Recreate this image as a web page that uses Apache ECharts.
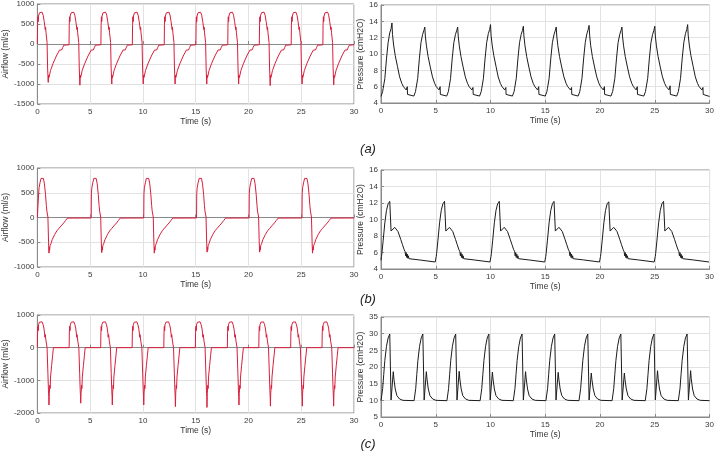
<!DOCTYPE html>
<html><head><meta charset="utf-8">
<script src="https://cdn.jsdelivr.net/npm/echarts@6/dist/echarts.min.js"></script>
<style>html,body{margin:0;padding:0;background:#fff}#c{width:717px;height:459px}</style>
</head><body><div id="c"></div>
<script>
// ---- tick labels ----
const timeTicks = [0,5,10,15,20,25,30];
const flowTicksA = [-1500,-1000,-500,0,500,1000];
const pressTicksA = [4,6,8,10,12,14,16];
const flowTicksB = [-1000,-500,0,500,1000];
const pressTicksB = [4,6,8,10,12,14,16];
const flowTicksC = [-2000,-1000,0,1000];
const pressTicksC = [5,10,15,20,25,30,35];
const panelLabels = ['(a)','(b)','(c)'];
const flowName = 'Airflow (ml/s)';
const pressName = 'Pressure (cmH2O)';
const timeName = 'Time (s)';

// ---- series values [time s, value] ----
const flowA = [
[0,0],[0.02,480],[0.05,680],[0.08,560],[0.11,700],[0.2,780],[0.32,800],[0.45,795],[0.55,720],[0.65,560],[0.75,360],[0.78,420],[0.82,280],[0.92,40],[0.97,-600],[1.03,-960],[1.06,-780],[1.1,-840],[1.25,-660],[1.5,-480],[1.8,-300],[2.1,-150],[2.25,-100],[2.3,-150],[2.4,-90],[2.5,-30],[2.6,-20],
[3,-20],[3.02,480],[3.05,680],[3.08,560],[3.11,700],[3.2,780],[3.32,800],[3.45,795],[3.55,720],[3.65,560],[3.75,360],[3.78,420],[3.82,280],[3.92,40],[3.97,-600],[4.03,-1030],[4.06,-780],[4.1,-840],[4.25,-660],[4.5,-480],[4.8,-300],[5.1,-150],[5.25,-100],[5.3,-150],[5.4,-90],[5.5,-30],[5.6,-20],
[6.02,-20],[6.04,480],[6.07,680],[6.1,560],[6.13,700],[6.22,780],[6.34,800],[6.47,795],[6.57,720],[6.67,560],[6.77,360],[6.8,420],[6.84,280],[6.94,40],[6.99,-600],[7.05,-1000],[7.08,-780],[7.12,-840],[7.27,-660],[7.52,-480],[7.82,-300],[8.12,-150],[8.27,-100],[8.32,-150],[8.42,-90],[8.52,-30],[8.62,-20],
[9,-20],[9.02,480],[9.05,680],[9.08,560],[9.11,700],[9.2,780],[9.32,800],[9.45,795],[9.55,720],[9.65,560],[9.75,360],[9.78,420],[9.82,280],[9.92,40],[9.97,-600],[10.03,-1000],[10.06,-780],[10.1,-840],[10.25,-660],[10.5,-480],[10.8,-300],[11.1,-150],[11.25,-100],[11.3,-150],[11.4,-90],[11.5,-30],[11.6,-20],
[12.02,-20],[12.04,480],[12.07,680],[12.1,560],[12.13,700],[12.22,780],[12.34,800],[12.47,795],[12.57,720],[12.67,560],[12.77,360],[12.8,420],[12.84,280],[12.94,40],[12.99,-600],[13.05,-1000],[13.08,-780],[13.12,-840],[13.27,-660],[13.52,-480],[13.82,-300],[14.12,-150],[14.27,-100],[14.32,-150],[14.42,-90],[14.52,-30],[14.62,-20],
[15.02,-20],[15.04,480],[15.07,680],[15.1,560],[15.13,700],[15.22,780],[15.34,800],[15.47,795],[15.57,720],[15.67,560],[15.77,360],[15.8,420],[15.84,280],[15.94,40],[15.99,-600],[16.05,-1000],[16.08,-780],[16.12,-840],[16.27,-660],[16.52,-480],[16.82,-300],[17.12,-150],[17.27,-100],[17.32,-150],[17.42,-90],[17.52,-30],[17.62,-20],
[18.04,-20],[18.06,480],[18.09,680],[18.12,560],[18.15,700],[18.24,780],[18.36,800],[18.49,795],[18.59,720],[18.69,560],[18.79,360],[18.82,420],[18.86,280],[18.96,40],[19.01,-600],[19.07,-1000],[19.1,-780],[19.14,-840],[19.29,-660],[19.54,-480],[19.84,-300],[20.14,-150],[20.29,-100],[20.34,-150],[20.44,-90],[20.54,-30],[20.64,-20],
[21.03,-20],[21.05,480],[21.08,680],[21.11,560],[21.14,700],[21.23,780],[21.35,800],[21.48,795],[21.58,720],[21.68,560],[21.78,360],[21.81,420],[21.85,280],[21.95,40],[22,-600],[22.06,-1040],[22.09,-780],[22.13,-840],[22.28,-660],[22.53,-480],[22.83,-300],[23.13,-150],[23.28,-100],[23.33,-150],[23.43,-90],[23.53,-30],[23.63,-20],
[24.05,-20],[24.07,480],[24.1,680],[24.13,560],[24.16,700],[24.25,780],[24.37,800],[24.5,795],[24.6,720],[24.7,560],[24.8,360],[24.83,420],[24.87,280],[24.97,40],[25.02,-600],[25.08,-1000],[25.11,-780],[25.15,-840],[25.3,-660],[25.55,-480],[25.85,-300],[26.15,-150],[26.3,-100],[26.35,-150],[26.45,-90],[26.55,-30],[26.65,-20],
[27.05,-20],[27.07,480],[27.1,680],[27.13,560],[27.16,700],[27.25,780],[27.37,800],[27.5,795],[27.6,720],[27.7,560],[27.8,360],[27.83,420],[27.87,280],[27.97,40],[28.02,-600],[28.08,-1020],[28.11,-780],[28.15,-840],[28.3,-660],[28.55,-480],[28.85,-300],[29.15,-150],[29.3,-100],[29.35,-150],[29.45,-90],[29.55,-30],[29.65,-20],[30,-20]
];

const pressA = [
[0,4.8],[0.1,5],[0.15,5.4],[0.2,5.8],[0.25,5.75],[0.35,7],[0.5,9.4],[0.65,11.4],[0.8,12.6],[0.92,13.1],[1,13.8],[1.05,12.4],[1.15,11.1],[1.3,9.8],[1.5,8.5],[1.7,7.2],[1.9,6.4],[2.05,6],[2.3,5.6],[2.36,5.55],[2.4,6],[2.42,5.05],[2.55,4.85],
[3,4.85],[3.1,4.9],[3.15,5.4],[3.2,5.8],[3.25,5.75],[3.35,7],[3.5,9.4],[3.65,11.4],[3.8,12.4],[3.92,12.9],[4,13.3],[4.05,12.2],[4.15,11],[4.3,9.7],[4.5,8.4],[4.7,7.2],[4.9,6.4],[5.05,6],[5.3,5.6],[5.36,5.55],[5.4,6],[5.42,5.05],[5.55,4.85],
[6,4.85],[6.1,4.9],[6.15,5.4],[6.2,5.8],[6.25,5.75],[6.35,7],[6.5,9.4],[6.65,11.4],[6.8,12.4],[6.92,12.9],[7,13.3],[7.05,12.2],[7.15,11],[7.3,9.7],[7.5,8.4],[7.7,7.2],[7.9,6.4],[8.05,6],[8.3,5.6],[8.36,5.55],[8.4,5.9],[8.42,5.05],[8.55,4.85],
[9,4.85],[9.1,4.9],[9.15,5.4],[9.2,5.8],[9.25,5.75],[9.35,7],[9.5,9.4],[9.65,11.4],[9.8,12.5],[9.92,13],[10,13.6],[10.05,12.3],[10.15,11.1],[10.3,9.8],[10.5,8.5],[10.7,7.2],[10.9,6.4],[11.05,6],[11.3,5.6],[11.36,5.55],[11.4,5.9],[11.42,5.05],[11.55,4.85],
[12,4.85],[12.1,4.9],[12.15,5.4],[12.2,5.8],[12.25,5.75],[12.35,7],[12.5,9.4],[12.65,11.4],[12.8,12.4],[12.92,12.9],[13,13.4],[13.05,12.2],[13.15,11],[13.3,9.7],[13.5,8.4],[13.7,7.2],[13.9,6.4],[14.05,6],[14.3,5.6],[14.36,5.55],[14.4,6],[14.42,5.05],[14.55,4.85],
[15,4.85],[15.1,4.9],[15.15,5.4],[15.2,5.8],[15.25,5.75],[15.35,7],[15.5,9.4],[15.65,11.4],[15.8,12.4],[15.92,12.9],[16,13.3],[16.05,12.2],[16.15,11],[16.3,9.7],[16.5,8.4],[16.7,7.2],[16.9,6.4],[17.05,6],[17.3,5.6],[17.36,5.55],[17.4,5.9],[17.42,5.05],[17.55,4.85],
[18,4.85],[18.1,4.9],[18.15,5.4],[18.2,5.8],[18.25,5.75],[18.35,7],[18.5,9.4],[18.65,11.4],[18.8,12.5],[18.92,13],[19,13.5],[19.05,12.3],[19.15,11],[19.3,9.7],[19.5,8.4],[19.7,7.2],[19.9,6.4],[20.05,6],[20.3,5.6],[20.36,5.55],[20.4,6],[20.42,5.05],[20.55,4.85],
[21,4.85],[21.1,4.9],[21.15,5.4],[21.2,5.8],[21.25,5.75],[21.35,7],[21.5,9.4],[21.65,11.4],[21.8,12.4],[21.92,12.9],[22,13.3],[22.05,12.2],[22.15,11],[22.3,9.7],[22.5,8.4],[22.7,7.2],[22.9,6.4],[23.05,6],[23.3,5.6],[23.36,5.55],[23.4,6],[23.42,5.05],[23.55,4.85],
[24,4.85],[24.1,4.9],[24.15,5.4],[24.2,5.8],[24.25,5.75],[24.35,7],[24.5,9.4],[24.65,11.4],[24.8,12.4],[24.92,12.9],[25,13.4],[25.05,12.2],[25.15,11],[25.3,9.7],[25.5,8.4],[25.7,7.2],[25.9,6.4],[26.05,6],[26.3,5.6],[26.36,5.55],[26.4,6.1],[26.42,5.05],[26.55,4.85],
[27,4.85],[27.1,4.9],[27.15,5.4],[27.2,5.8],[27.25,5.75],[27.35,7],[27.5,9.4],[27.65,11.4],[27.8,12.5],[27.92,13],[28,13.6],[28.05,12.3],[28.15,11.1],[28.3,9.8],[28.5,8.5],[28.7,7.2],[28.9,6.4],[29.05,6],[29.3,5.6],[29.36,5.55],[29.4,5.9],[29.42,5.05],[29.55,4.85],[30,4.8]
];

const flowB = [
[0,0],[0.1,-5],[0.12,480],[0.16,600],[0.2,560],[0.25,700],[0.35,790],[0.47,815],[0.57,790],[0.67,680],[0.77,470],[0.85,240],[0.9,130],[1,10],[1.06,-500],[1.1,-720],[1.13,-600],[1.16,-660],[1.2,-570],[1.25,-600],[1.3,-520],[1.4,-450],[1.5,-410],[1.65,-340],[1.85,-270],[2.05,-220],[2.25,-170],[2.4,-140],[2.5,-110],[2.6,-90],[2.68,-60],[2.75,-20],[2.85,-12],
[5.1,-10],[5.12,480],[5.16,600],[5.2,560],[5.25,700],[5.35,790],[5.47,815],[5.57,790],[5.67,680],[5.77,470],[5.85,240],[5.9,130],[6,10],[6.06,-500],[6.1,-710],[6.13,-600],[6.16,-660],[6.2,-570],[6.25,-600],[6.3,-520],[6.4,-450],[6.5,-410],[6.65,-340],[6.85,-270],[7.05,-220],[7.25,-170],[7.4,-140],[7.5,-110],[7.6,-90],[7.68,-60],[7.75,-20],[7.85,-12],
[10.08,-10],[10.1,480],[10.14,600],[10.18,560],[10.23,700],[10.33,790],[10.45,815],[10.55,790],[10.65,680],[10.75,470],[10.83,240],[10.88,130],[10.98,10],[11.04,-500],[11.08,-720],[11.11,-600],[11.14,-660],[11.18,-570],[11.23,-600],[11.28,-520],[11.38,-450],[11.48,-410],[11.63,-340],[11.83,-270],[12.03,-220],[12.23,-170],[12.38,-140],[12.48,-110],[12.58,-90],[12.66,-60],[12.73,-20],[12.83,-12],
[15.08,-10],[15.1,480],[15.14,600],[15.18,560],[15.23,700],[15.33,790],[15.45,815],[15.55,790],[15.65,680],[15.75,470],[15.83,240],[15.88,130],[15.98,10],[16.04,-500],[16.08,-700],[16.11,-600],[16.14,-660],[16.18,-570],[16.23,-600],[16.28,-520],[16.38,-450],[16.48,-410],[16.63,-340],[16.83,-270],[17.03,-220],[17.23,-170],[17.38,-140],[17.48,-110],[17.58,-90],[17.66,-60],[17.73,-20],[17.83,-12],
[20.06,-10],[20.08,480],[20.12,600],[20.16,560],[20.21,700],[20.31,790],[20.43,815],[20.53,790],[20.63,680],[20.73,470],[20.81,240],[20.86,130],[20.96,10],[21.02,-500],[21.06,-700],[21.09,-600],[21.12,-660],[21.16,-570],[21.21,-600],[21.26,-520],[21.36,-450],[21.46,-410],[21.61,-340],[21.81,-270],[22.01,-220],[22.21,-170],[22.36,-140],[22.46,-110],[22.56,-90],[22.64,-60],[22.71,-20],[22.81,-12],
[25.07,-10],[25.09,480],[25.13,600],[25.17,560],[25.22,700],[25.32,790],[25.44,815],[25.54,790],[25.64,680],[25.74,470],[25.82,240],[25.87,130],[25.97,10],[26.03,-500],[26.07,-720],[26.1,-600],[26.13,-660],[26.17,-570],[26.22,-600],[26.27,-520],[26.37,-450],[26.47,-410],[26.62,-340],[26.82,-270],[27.02,-220],[27.22,-170],[27.37,-140],[27.47,-110],[27.57,-90],[27.65,-60],[27.72,-20],[27.82,-12],[30,-10]
];

const pressB = [
[0,5.05],[0.04,5.5],[0.08,5.9],[0.2,7.5],[0.35,9.6],[0.5,11.1],[0.65,11.9],[0.8,12.2],[0.88,12.35],[0.92,8.6],[0.97,8.5],[1.02,8.8],[1.25,9.05],[1.4,8.9],[1.55,8.55],[1.8,7.6],[1.95,7],[2.1,6.4],[2.2,6.1],[2.25,5.6],[2.3,6],[2.35,5.4],[2.4,5.8],[2.45,5.3],[2.5,5.6],[2.55,5.25],[2.6,5.4],[2.65,5.3],[3.5,5.1],[4.95,4.85],
[5,4.85],[5.04,5.5],[5.08,5.9],[5.2,7.5],[5.35,9.6],[5.5,11.1],[5.65,11.9],[5.8,12.2],[5.88,12.35],[5.92,8.6],[5.97,8.5],[6.02,8.8],[6.25,9.05],[6.4,8.9],[6.55,8.55],[6.8,7.6],[6.95,7],[7.1,6.4],[7.2,6.1],[7.25,5.6],[7.3,6],[7.35,5.4],[7.4,5.8],[7.45,5.3],[7.5,5.6],[7.55,5.25],[7.6,5.4],[7.65,5.3],[8.5,5.1],[9.95,4.85],
[10,4.85],[10.04,5.5],[10.08,5.9],[10.2,7.5],[10.35,9.6],[10.5,11.1],[10.65,11.9],[10.8,12.2],[10.88,12.4],[10.92,8.6],[10.97,8.5],[11.02,8.8],[11.25,9.05],[11.4,8.9],[11.55,8.55],[11.8,7.6],[11.95,7],[12.1,6.4],[12.2,6.1],[12.25,5.6],[12.3,6],[12.35,5.4],[12.4,5.8],[12.45,5.3],[12.5,5.6],[12.55,5.25],[12.6,5.4],[12.65,5.3],[13.5,5.1],[14.95,4.85],
[15,4.85],[15.04,5.5],[15.08,5.9],[15.2,7.5],[15.35,9.6],[15.5,11.1],[15.65,11.9],[15.8,12.2],[15.88,12.4],[15.92,8.6],[15.97,8.5],[16.02,8.8],[16.25,9.05],[16.4,8.9],[16.55,8.55],[16.8,7.6],[16.95,7],[17.1,6.4],[17.2,6.1],[17.25,5.6],[17.3,6],[17.35,5.4],[17.4,5.8],[17.45,5.3],[17.5,5.6],[17.55,5.25],[17.6,5.4],[17.65,5.3],[18.5,5.1],[19.95,4.85],
[20,4.85],[20.04,5.5],[20.08,5.9],[20.2,7.5],[20.35,9.6],[20.5,11.1],[20.65,11.9],[20.8,12.15],[20.88,12.3],[20.92,8.6],[20.97,8.5],[21.02,8.8],[21.25,9.05],[21.4,8.9],[21.55,8.55],[21.8,7.6],[21.95,7],[22.1,6.4],[22.2,6.1],[22.25,5.6],[22.3,6],[22.35,5.4],[22.4,5.8],[22.45,5.3],[22.5,5.6],[22.55,5.25],[22.6,5.4],[22.65,5.3],[23.5,5.1],[24.95,4.85],
[25,4.85],[25.04,5.5],[25.08,5.9],[25.2,7.5],[25.35,9.6],[25.5,11.1],[25.65,11.9],[25.8,12.2],[25.88,12.35],[25.92,8.6],[25.97,8.5],[26.02,8.8],[26.25,9.05],[26.4,8.9],[26.55,8.55],[26.8,7.6],[26.95,7],[27.1,6.4],[27.2,6.1],[27.25,5.6],[27.3,6],[27.35,5.4],[27.4,5.8],[27.45,5.3],[27.5,5.6],[27.55,5.25],[27.6,5.4],[27.65,5.3],[28.5,5.1],[29.95,4.85],[30,4.85]
];

const flowC = [
[0,0],[0.02,450],[0.05,650],[0.08,520],[0.11,700],[0.2,780],[0.33,810],[0.45,790],[0.55,700],[0.62,600],[0.68,450],[0.71,320],[0.75,400],[0.82,200],[0.92,0],[1,-800],[1.05,-1300],[1.08,-1500],[1.1,-1755],[1.13,-1400],[1.18,-1150],[1.21,-1250],[1.25,-900],[1.35,-550],[1.45,-230],[1.52,0],
[3.01,0],[3.03,450],[3.06,650],[3.09,520],[3.12,700],[3.21,780],[3.34,810],[3.46,790],[3.56,700],[3.63,600],[3.69,450],[3.72,320],[3.76,400],[3.83,200],[3.93,0],[4.01,-800],[4.06,-1300],[4.09,-1500],[4.11,-1700],[4.14,-1400],[4.19,-1150],[4.22,-1250],[4.26,-900],[4.36,-550],[4.46,-230],[4.53,0],
[6,0],[6.02,450],[6.05,650],[6.08,520],[6.11,700],[6.2,780],[6.33,810],[6.45,790],[6.55,700],[6.62,600],[6.68,450],[6.71,320],[6.75,400],[6.82,200],[6.92,0],[7,-800],[7.05,-1300],[7.08,-1500],[7.1,-1755],[7.13,-1400],[7.18,-1150],[7.21,-1250],[7.25,-900],[7.35,-550],[7.45,-230],[7.52,0],
[8.98,0],[9,450],[9.03,650],[9.06,520],[9.09,700],[9.18,780],[9.31,810],[9.43,790],[9.53,700],[9.6,600],[9.66,450],[9.69,320],[9.73,400],[9.8,200],[9.9,0],[9.98,-800],[10.03,-1300],[10.06,-1500],[10.08,-1755],[10.11,-1400],[10.16,-1150],[10.19,-1250],[10.23,-900],[10.33,-550],[10.43,-230],[10.5,0],
[11.98,0],[12,450],[12.03,650],[12.06,520],[12.09,700],[12.18,780],[12.31,810],[12.43,790],[12.53,700],[12.6,600],[12.66,450],[12.69,320],[12.73,400],[12.8,200],[12.9,0],[12.98,-800],[13.03,-1300],[13.06,-1500],[13.08,-1805],[13.11,-1400],[13.16,-1150],[13.19,-1250],[13.23,-900],[13.33,-550],[13.43,-230],[13.5,0],
[14.97,0],[14.99,450],[15.02,650],[15.05,520],[15.08,700],[15.17,780],[15.3,810],[15.42,790],[15.52,700],[15.59,600],[15.65,450],[15.68,320],[15.72,400],[15.79,200],[15.89,0],[15.97,-800],[16.02,-1300],[16.05,-1500],[16.07,-1830],[16.1,-1400],[16.15,-1150],[16.18,-1250],[16.22,-900],[16.32,-550],[16.42,-230],[16.49,0],
[18,0],[18.02,450],[18.05,650],[18.08,520],[18.11,700],[18.2,780],[18.33,810],[18.45,790],[18.55,700],[18.62,600],[18.68,450],[18.71,320],[18.75,400],[18.82,200],[18.92,0],[19,-800],[19.05,-1300],[19.08,-1500],[19.1,-1755],[19.13,-1400],[19.18,-1150],[19.21,-1250],[19.25,-900],[19.35,-550],[19.45,-230],[19.52,0],
[20.98,0],[21,450],[21.03,650],[21.06,520],[21.09,700],[21.18,780],[21.31,810],[21.43,790],[21.53,700],[21.6,600],[21.66,450],[21.69,320],[21.73,400],[21.8,200],[21.9,0],[21.98,-800],[22.03,-1300],[22.06,-1500],[22.08,-1790],[22.11,-1400],[22.16,-1150],[22.19,-1250],[22.23,-900],[22.33,-550],[22.43,-230],[22.5,0],
[24,0],[24.02,450],[24.05,650],[24.08,520],[24.11,700],[24.2,780],[24.33,810],[24.45,790],[24.55,700],[24.62,600],[24.68,450],[24.71,320],[24.75,400],[24.82,200],[24.92,0],[25,-800],[25.05,-1300],[25.08,-1500],[25.1,-1790],[25.13,-1400],[25.18,-1150],[25.21,-1250],[25.25,-900],[25.35,-550],[25.45,-230],[25.52,0],
[26.97,0],[26.99,450],[27.02,650],[27.05,520],[27.08,700],[27.17,780],[27.3,810],[27.42,790],[27.52,700],[27.59,600],[27.65,450],[27.68,320],[27.72,400],[27.79,200],[27.89,0],[27.97,-800],[28.02,-1300],[28.05,-1500],[28.07,-1790],[28.1,-1400],[28.15,-1150],[28.18,-1250],[28.22,-900],[28.32,-550],[28.42,-230],[28.49,0],[30,0]
];

const pressC = [
[0,9.9],[0.05,10.3],[0.15,13.5],[0.25,17.8],[0.35,22],[0.5,26.2],[0.65,28.7],[0.8,29.9],[0.9,30.3],[0.92,10.1],[1.1,10],[1.12,18.6],[1.18,16.4],[1.3,13.4],[1.45,11.4],[1.7,10.4],[2,10],
[3.02,9.9],[3.07,10.3],[3.17,13.5],[3.27,17.8],[3.37,22],[3.52,26.2],[3.67,28.7],[3.82,29.9],[3.92,30.3],[3.94,10.1],[4.12,10],[4.14,18.6],[4.2,16.4],[4.32,13.4],[4.47,11.4],[4.72,10.4],[5.02,10],
[6.02,9.9],[6.07,10.3],[6.17,13.5],[6.27,17.8],[6.37,22],[6.52,26.2],[6.67,28.7],[6.82,29.9],[6.92,30.3],[6.94,10.1],[7.12,10],[7.14,18.7],[7.2,16.4],[7.32,13.4],[7.47,11.4],[7.72,10.4],[8.02,10],
[9.05,9.9],[9.1,10.3],[9.2,13.5],[9.3,17.8],[9.4,22],[9.55,26.2],[9.7,28.7],[9.85,29.9],[9.95,30.3],[9.97,10.1],[10.15,10],[10.17,18.5],[10.23,16.4],[10.35,13.4],[10.5,11.4],[10.75,10.4],[11.05,10],
[12.08,9.9],[12.13,10.3],[12.23,13.5],[12.33,17.8],[12.43,22],[12.58,26.2],[12.73,28.7],[12.88,29.9],[12.98,30.3],[13,10.1],[13.18,10],[13.2,18.6],[13.26,16.4],[13.38,13.4],[13.53,11.4],[13.78,10.4],[14.08,10],
[15.06,9.9],[15.11,10.3],[15.21,13.5],[15.31,17.8],[15.41,22],[15.56,26.2],[15.71,28.7],[15.86,29.9],[15.96,30.3],[15.98,10.1],[16.16,10],[16.18,18.4],[16.24,16.4],[16.36,13.4],[16.51,11.4],[16.76,10.4],[17.06,10],
[18.08,9.9],[18.13,10.3],[18.23,13.5],[18.33,17.8],[18.43,22],[18.58,26.2],[18.73,28.7],[18.88,29.9],[18.98,30.3],[19,10.1],[19.18,10],[19.2,18.2],[19.26,16.2],[19.38,13.4],[19.53,11.4],[19.78,10.4],[20.08,10],
[21.1,9.9],[21.15,10.3],[21.25,13.5],[21.35,17.8],[21.45,22],[21.6,26.2],[21.75,28.7],[21.9,29.9],[22,30.3],[22.02,10.1],[22.2,10],[22.22,18.2],[22.28,16.2],[22.4,13.4],[22.55,11.4],[22.8,10.4],[23.1,10],
[24.13,9.9],[24.18,10.3],[24.28,13.5],[24.38,17.8],[24.48,22],[24.63,26.2],[24.78,28.7],[24.93,29.9],[25.03,30.3],[25.05,10.1],[25.23,10],[25.25,18.9],[25.31,16.5],[25.43,13.4],[25.58,11.4],[25.83,10.4],[26.13,10],
[27.15,9.9],[27.2,10.3],[27.3,13.5],[27.4,17.8],[27.5,22],[27.65,26.2],[27.8,28.7],[27.95,29.9],[28.05,30.3],[28.07,10.1],[28.25,10],[28.27,18.9],[28.33,16.5],[28.45,13.4],[28.6,11.4],[28.85,10.4],[29.15,10],[30,9.9]
];

// ---- layout / styling ----
const FONT = 'Liberation Sans';
const RED = '#d81e3c';
const BLACK = '#1c1c1c';
const grids = [
  {left:31, top:4, width:323, height:100},
  {left:381, top:5, width:330, height:98},
  {left:31, top:168, width:323, height:99},
  {left:381, top:170, width:330, height:99},
  {left:31, top:315, width:323, height:98},
  {left:381, top:317, width:330, height:100}
];
const panels = [
  {data:flowA, ticks:flowTicksA, name:flowName, color:RED, gap:22},
  {data:pressA, ticks:pressTicksA, name:pressName, color:BLACK, gap:12},
  {data:flowB, ticks:flowTicksB, name:flowName, color:RED, gap:22},
  {data:pressB, ticks:pressTicksB, name:pressName, color:BLACK, gap:12},
  {data:flowC, ticks:flowTicksC, name:flowName, color:RED, gap:22},
  {data:pressC, ticks:pressTicksC, name:pressName, color:BLACK, gap:12}
];

const axisGrey = '#8a8a8a';
const plain = v => String(v);
const labelStyle = {color:'#3a3a3a', fontSize:8, fontFamily:FONT, formatter:plain};
const splitStyle = {show:true, lineStyle:{color:'#e2e2e2', width:1}};

const option = {
  animation:false,
  backgroundColor:'#ffffff',
  grid: grids.map(g => Object.assign({show:true, borderColor:axisGrey, borderWidth:1, backgroundColor:'#fff'}, g)),
  xAxis: panels.map((p,i) => ({
    type:'value', gridIndex:i,
    min:timeTicks[0], max:timeTicks[timeTicks.length-1], interval:timeTicks[1]-timeTicks[0],
    name:timeName, nameLocation:'middle', nameGap:13,
    nameTextStyle:{color:'#333', fontSize:8.5, fontFamily:FONT},
    axisLine:{show:true, lineStyle:{color:axisGrey, width:1}},
    axisTick:{show:true, inside:true, length:3, lineStyle:{color:axisGrey}},
    axisLabel:Object.assign({margin:4}, labelStyle),
    splitLine:splitStyle
  })),
  yAxis: panels.map((p,i) => ({
    type:'value', gridIndex:i,
    min:p.ticks[0], max:p.ticks[p.ticks.length-1], interval:p.ticks[1]-p.ticks[0],
    name:p.name, nameLocation:'middle', nameGap:p.gap,
    nameTextStyle:{color:'#333', fontSize:8.5, fontFamily:FONT},
    axisLine:{show:true, lineStyle:{color:axisGrey, width:1}},
    axisTick:{show:true, inside:true, length:3, lineStyle:{color:axisGrey}},
    axisLabel:Object.assign({margin:3}, labelStyle),
    splitLine:splitStyle
  })),
  series: panels.map((p,i) => ({
    type:'line', xAxisIndex:i, yAxisIndex:i, data:p.data,
    showSymbol:false, symbol:'none', smooth:false,
    lineStyle:{color:p.color, width:1},
    itemStyle:{color:p.color},
    silent:true
  })),
  graphic: panelLabels.map((t,i) => ({
    type:'text', x:368, y:[149,299,444][i],
    style:{text:t, font:'italic 13px "Liberation Sans"', fill:'#222', align:'center', verticalAlign:'middle'}
  }))
};

const chart = echarts.init(document.getElementById('c'), null, {renderer:'canvas'});
chart.setOption(option);
</script>
</body></html>
